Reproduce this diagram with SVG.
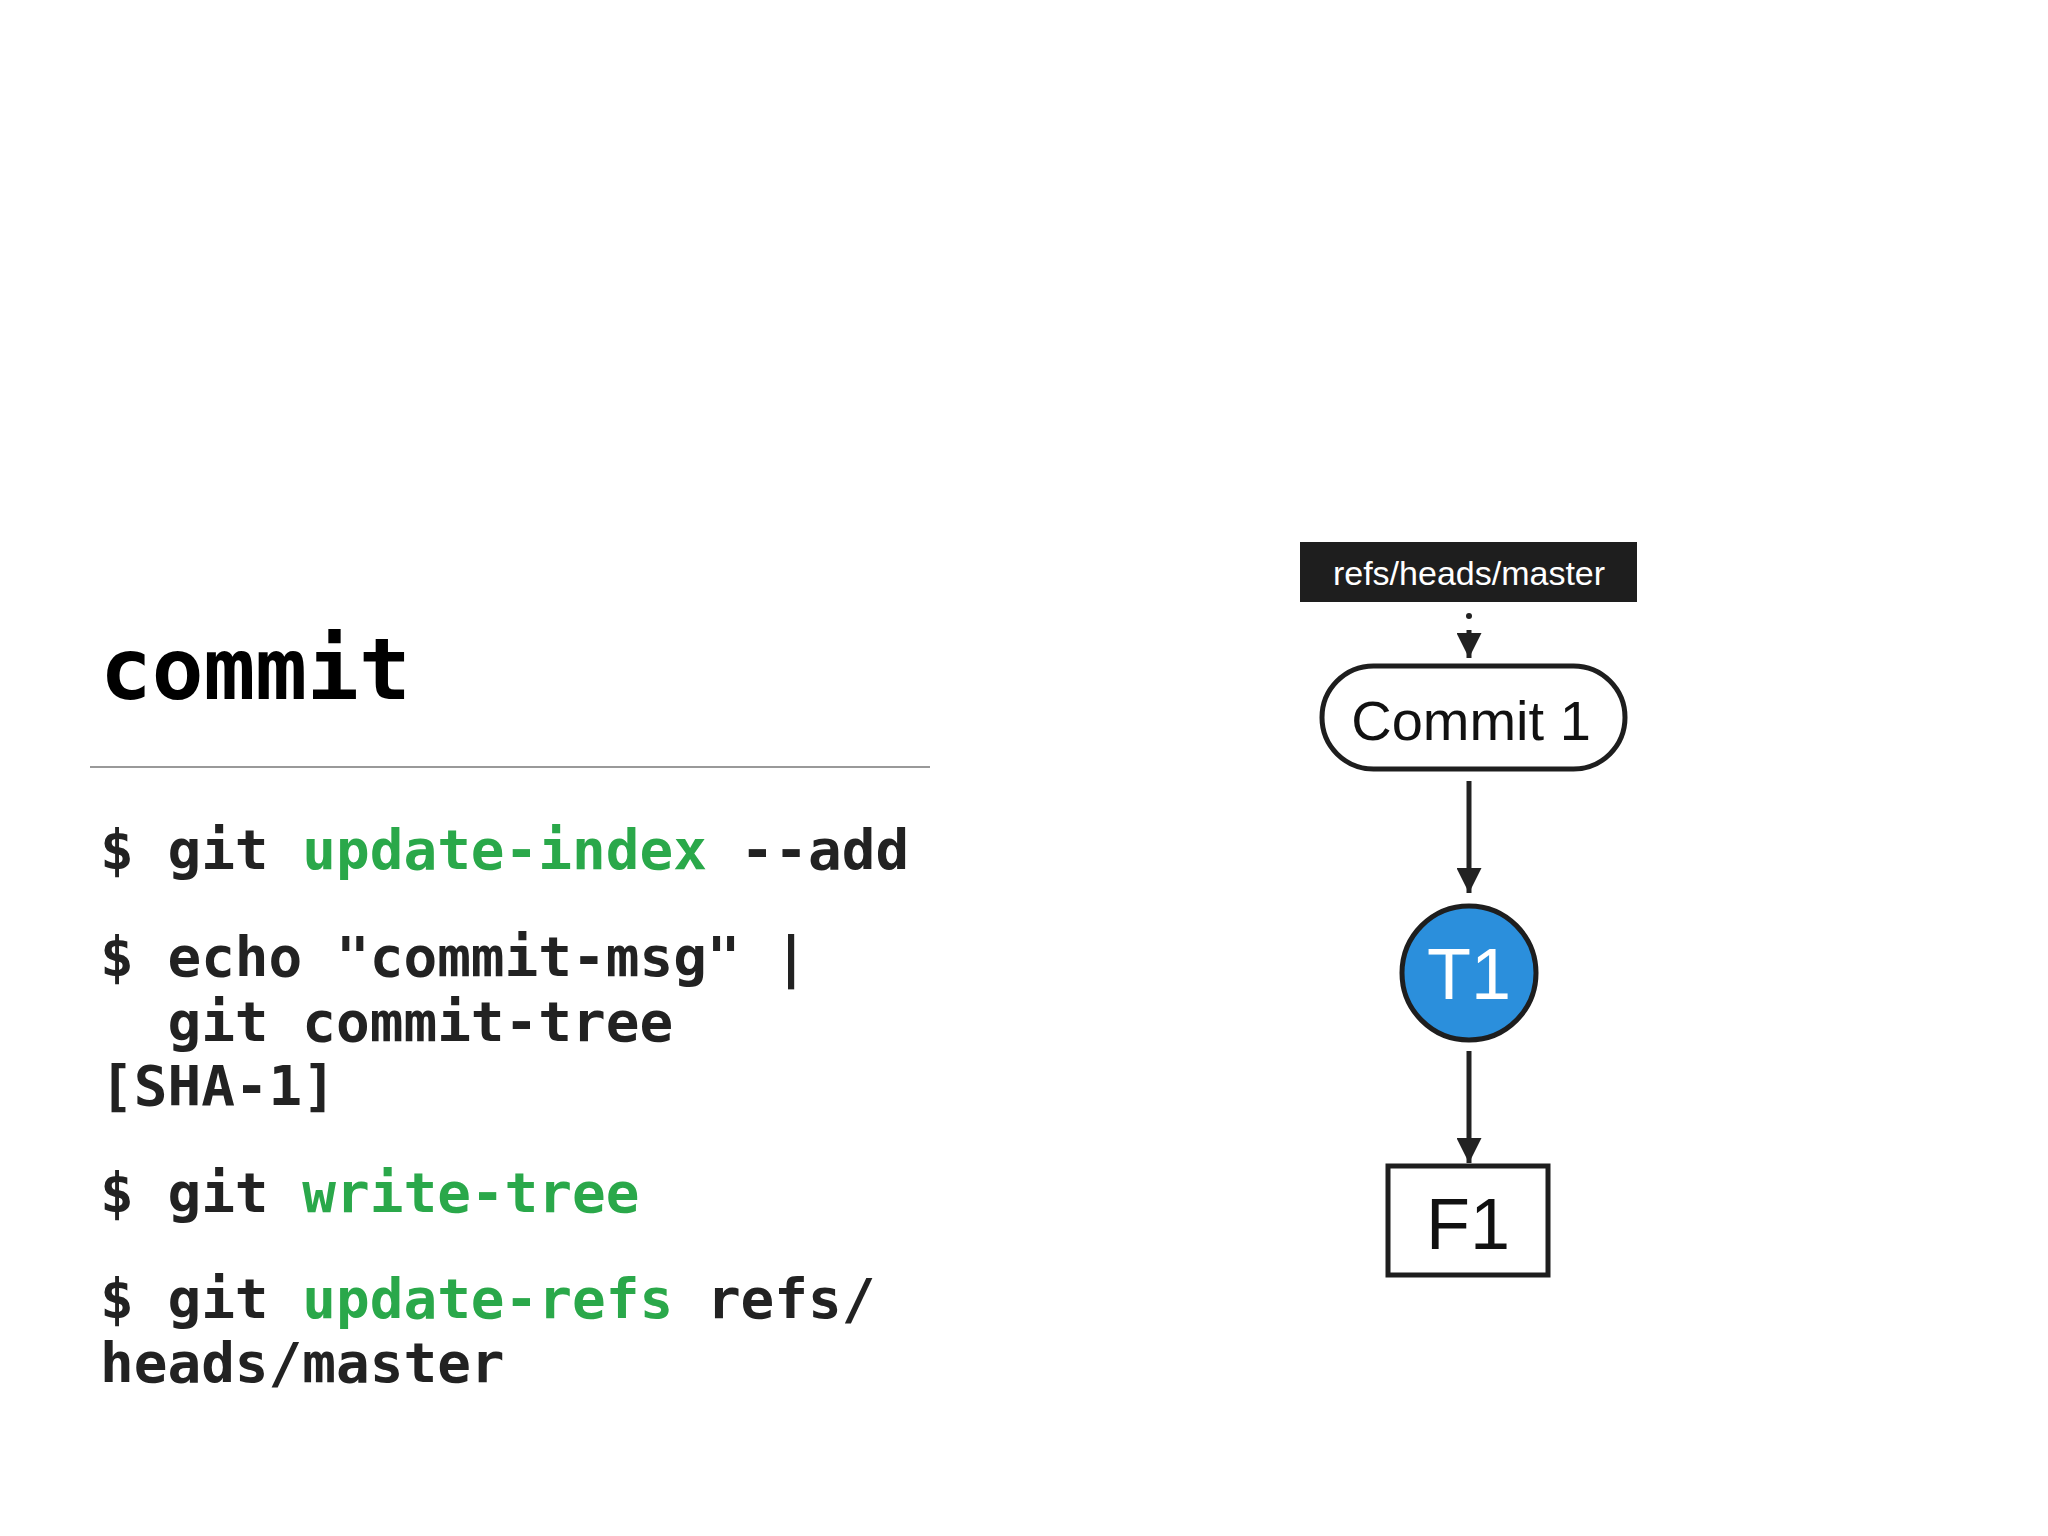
<svg xmlns="http://www.w3.org/2000/svg" width="2048" height="1536" viewBox="0 0 2048 1536">
<style>
.code{font-family:"DejaVu Sans Mono",monospace;font-weight:bold;font-size:56px;fill:#222;white-space:pre}
.g{fill:#2aa84a}
.lbl{font-family:"Liberation Sans",Arial,sans-serif;text-anchor:middle}
.edge{stroke:#222;stroke-width:5;fill:none}
</style>
<defs>
<marker id="ah" viewBox="0 0 10 10" refX="10" refY="5" markerWidth="5" markerHeight="5" orient="auto" markerUnits="strokeWidth">
<path d="M0,0 L10,5 L0,10 z" fill="#222"/>
</marker>
</defs>
<rect width="2048" height="1536" fill="#fff"/>
<text x="100" y="699" style="font-family:'DejaVu Sans Mono',monospace;font-weight:bold;font-size:86px;fill:#000">commit</text>
<line x1="90" y1="767" x2="930" y2="767" stroke="#999" stroke-width="2"/>
<text class="code" x="100" y="869">$ git <tspan class="g">update-index</tspan> --add</text>
<text class="code" x="100" y="976">$ echo "commit-msg" |</text>
<text class="code" x="100" y="1041">  git commit-tree</text>
<text class="code" x="100" y="1105">[SHA-1]</text>
<text class="code" x="100" y="1212">$ git <tspan class="g">write-tree</tspan></text>
<text class="code" x="100" y="1318">$ git <tspan class="g">update-refs</tspan> refs/</text>
<text class="code" x="100" y="1382">heads/master</text>
<g id="connectors">
<circle cx="1469" cy="616" r="3" fill="#222"/>
<line class="edge" x1="1469" y1="630" x2="1469" y2="658" marker-end="url(#ah)"/>
<line class="edge" x1="1469" y1="781" x2="1469" y2="893" marker-end="url(#ah)"/>
<line class="edge" x1="1469" y1="1051" x2="1469" y2="1163" marker-end="url(#ah)"/>
</g>
<g id="ref">
<rect x="1300" y="542" width="337" height="60" fill="#1e1e1e"/>
<text class="lbl" x="1469" y="585" font-size="34" fill="#fff">refs/heads/master</text>
</g>
<g id="commit1">
<rect x="1322" y="666" width="303" height="103" rx="51.5" fill="#fff" stroke="#1e1e1e" stroke-width="5"/>
<text class="lbl" x="1471" y="740" font-size="56" fill="#111">Commit 1</text>
</g>
<g id="t1">
<ellipse cx="1469" cy="973" rx="67" ry="67" fill="#2b8fdc" stroke="#1e1e1e" stroke-width="5"/>
<text class="lbl" x="1469" y="999" font-size="72" fill="#fff">T1</text>
</g>
<g id="f1">
<rect x="1388" y="1166" width="160" height="109" fill="#fff" stroke="#1e1e1e" stroke-width="5"/>
<text class="lbl" x="1468" y="1249" font-size="72" fill="#111">F1</text>
</g>
</svg>
